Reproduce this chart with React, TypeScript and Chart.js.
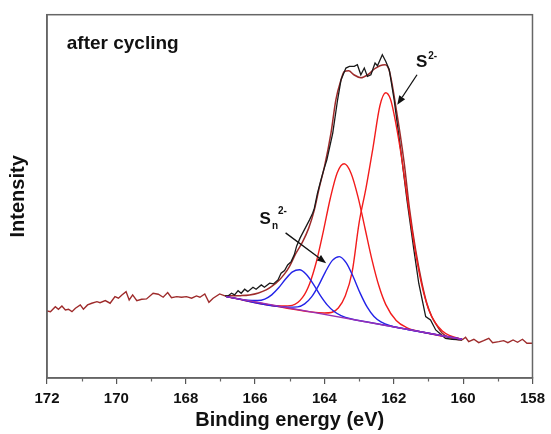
import React, { useEffect, useRef } from 'react';
import { Chart, registerables } from 'chart.js';
Chart.register(...registerables);

// ---------- data (binding energy in eV, intensity in arbitrary units) ----------
const noiseLeftE = [172.0, 171.9, 171.76, 171.67, 171.57, 171.47, 171.38, 171.28, 171.18, 171.04, 170.95, 170.83, 170.71, 170.56, 170.47, 170.32, 170.18, 170.04, 169.94, 169.84, 169.72, 169.63, 169.53, 169.41, 169.27, 169.13, 168.94, 168.79, 168.65, 168.52, 168.41, 168.26, 168.12, 167.98, 167.83, 167.69, 167.59, 167.45, 167.33, 167.21, 167.02, 166.87];
const noiseLeftI = [67, 66.3, 71.3, 68.7, 72, 68, 68.7, 66.3, 69.7, 73, 68.7, 73, 74.7, 76.3, 75.3, 77.3, 74.7, 81.3, 79.7, 83, 86.3, 78, 83, 77.3, 78.7, 79, 84.7, 83.7, 80.7, 85.3, 80.3, 81.3, 80.7, 81.3, 79.7, 82, 80.7, 84, 75.7, 79.7, 84, 82];

const noiseRightE = [160.03, 159.93, 159.84, 159.69, 159.55, 159.41, 159.26, 159.15, 158.97, 158.83, 158.71, 158.56, 158.43, 158.29, 158.16, 158.0];
const noiseRightI = [38, 40.7, 36.3, 38.7, 35.3, 37.3, 39.7, 35.3, 36.3, 37.3, 35.3, 38, 35.7, 38.7, 34.7, 34.7];

const envelopeE = [166.87, 166.4, 166.16, 165.9, 165.68, 165.5, 165.3, 165.15, 165.01, 164.82, 164.63, 164.45, 164.29, 164.15, 164.0, 163.81, 163.67, 163.52, 163.43, 163.3, 163.15, 162.95, 162.75, 162.55, 162.4, 162.25, 162.13, 161.94, 161.7, 161.55, 161.37, 161.19, 161.05, 160.9, 160.75, 160.61, 160.4, 160.12, 160.03];
const envelopeI = [82, 82.3, 83, 85, 88, 92, 98, 104, 111.3, 124.7, 136, 150, 168, 190, 211, 245, 278, 298, 306, 307, 303, 300, 303, 309, 312, 313, 307, 271, 215, 170, 128, 95, 75, 61, 52, 45, 40.5, 38.3, 38];

const rawE = [166.87, 166.78, 166.68, 166.59, 166.49, 166.4, 166.3, 166.21, 166.06, 165.97, 165.82, 165.73, 165.58, 165.47, 165.34, 165.25, 165.15, 165.06, 164.96, 164.87, 164.8, 164.7, 164.58, 164.43, 164.34, 164.29, 164.2, 164.1, 164.02, 163.93, 163.76, 163.62, 163.52, 163.38, 163.28, 163.14, 163.05, 162.95, 162.85, 162.76, 162.66, 162.54, 162.47, 162.33, 162.23, 162.13, 161.99, 161.8, 161.62, 161.42, 161.28, 161.18, 161.08, 160.94, 160.79, 160.51, 160.32, 160.03];
const rawI = [82, 82, 84.7, 83, 87.3, 84.7, 88.7, 86.3, 90.7, 88.7, 93, 90.7, 94.7, 94, 98, 104.7, 107.3, 113, 116.3, 123, 132, 140, 148, 158, 164.7, 169.7, 184.7, 198, 208, 218, 244.7, 278, 298, 309.7, 311.3, 311.3, 313, 303, 309.7, 301.3, 303, 314.7, 312, 323, 316.3, 308, 278, 228, 178, 128, 94.7, 78, 61.3, 58, 48, 39.7, 38.7, 38];

// S2- component (main) and its partner
const s2MainE = [166.83, 164.4, 164.0, 163.8, 163.6, 163.4, 163.2, 163.0, 162.8, 162.6, 162.4, 162.23, 162.1, 162.0, 161.8, 161.6, 161.4, 161.2, 161.0, 160.8, 160.6, 160.4, 160.03];
const s2MainI = [81.3, 66.1, 65, 65.5, 70, 82, 106, 155, 190, 230, 272, 285, 279, 265, 226, 177, 131, 94, 69, 55, 47, 42.6, 38.7];

const s2SecondE = [166.83, 165.23, 164.93, 164.63, 164.43, 164.23, 164.03, 163.83, 163.63, 163.43, 163.23, 163.03, 162.83, 162.63, 162.43, 162.23, 161.93, 161.63, 161.2, 160.03];
const s2SecondI = [81.3, 71.9, 72.6, 80.5, 94.0, 116.4, 146.8, 179.6, 205.1, 214, 204.4, 180.8, 149.6, 118.3, 92.1, 73.3, 57.4, 50.4, 46.0, 38.7];

// Sn2- components
const snRightE = [166.83, 165.07, 164.77, 164.57, 164.37, 164.17, 163.97, 163.77, 163.57, 163.37, 163.17, 162.97, 162.77, 162.57, 162.37, 162.07, 161.6, 160.03];
const snRightI = [81.3, 70.8, 71.1, 74.0, 81.0, 92.3, 106.1, 117.5, 121.3, 115.0, 101.1, 84.8, 71.0, 61.5, 56.1, 52.0, 48.5, 38.7];

const snLeftE = [166.83, 166.22, 165.92, 165.72, 165.52, 165.32, 165.12, 164.92, 164.72, 164.52, 164.32, 164.12, 163.92, 163.72, 163.52, 163.22, 162.8, 160.03];
const snLeftI = [81.3, 77.8, 77.4, 78.9, 83.1, 90.1, 98.9, 106.0, 108.1, 103.5, 93.9, 82.6, 73.1, 66.4, 62.4, 59.0, 56.2, 38.7];

const backgroundE = [166.83, 160.03];
const backgroundI = [81.3, 38.7];

const xMin = 158;
const xMax = 172;
const xStep = 2;
const minorTicks = [171, 169, 167, 165, 163, 161, 159];
const yMin = 0;
const yMax = 363;

const FONT = "'Liberation Sans', Arial, Helvetica, sans-serif";

const annotationCfg = {
  title: { text: 'after cycling', x: 171.43, y: 329 },
  s2: { x: 161.36, y: 311, arrowFrom: [161.33, 303], arrowTo: [161.9, 273] },
  sn: { x: 165.87, y: 154, arrowFrom: [165.12, 145], arrowTo: [163.95, 114.7] },
};

function pts(E: number[], I: number[]) {
  return E.map((e, i) => ({ x: e, y: I[i] }));
}

function drawArrow(ctx: CanvasRenderingContext2D, x1: number, y1: number, x2: number, y2: number) {
  const ang = Math.atan2(y2 - y1, x2 - x1);
  const hl = 9;
  const hw = 3.5;
  const bx = x2 - hl * Math.cos(ang);
  const by = y2 - hl * Math.sin(ang);
  ctx.beginPath();
  ctx.moveTo(x1, y1);
  ctx.lineTo(bx, by);
  ctx.strokeStyle = '#111';
  ctx.lineWidth = 1.3;
  ctx.stroke();
  ctx.beginPath();
  ctx.moveTo(x2, y2);
  ctx.lineTo(bx + hw * Math.sin(ang), by - hw * Math.cos(ang));
  ctx.lineTo(bx - hw * Math.sin(ang), by + hw * Math.cos(ang));
  ctx.closePath();
  ctx.fillStyle = '#111';
  ctx.fill();
}

const decorPlugin = {
  id: 'decor',
  afterDraw(chart: any) {
    const { ctx, chartArea, scales } = chart;
    const xs = scales.x;
    const ys = scales.y;
    ctx.save();
    // frame
    ctx.strokeStyle = '#666';
    ctx.lineWidth = 1.5;
    ctx.strokeRect(chartArea.left, chartArea.top, chartArea.right - chartArea.left, chartArea.bottom - chartArea.top);
    // minor ticks
    ctx.beginPath();
    minorTicks.forEach((v) => {
      const px = Math.round(xs.getPixelForValue(v)) + 0.5;
      ctx.moveTo(px, chartArea.bottom);
      ctx.lineTo(px, chartArea.bottom + 3.5);
    });
    ctx.lineWidth = 1.2;
    ctx.stroke();

    // texts
    ctx.fillStyle = '#111';
    ctx.textBaseline = 'alphabetic';
    ctx.textAlign = 'left';
    const t = annotationCfg.title;
    ctx.font = `bold 19px ${FONT}`;
    ctx.fillText(t.text, xs.getPixelForValue(t.x), ys.getPixelForValue(t.y));

    // S2-
    const s2 = annotationCfg.s2;
    let sx = xs.getPixelForValue(s2.x);
    let sy = ys.getPixelForValue(s2.y);
    ctx.font = `bold 17px ${FONT}`;
    ctx.fillText('S', sx, sy);
    let w = ctx.measureText('S').width;
    ctx.font = `bold 10px ${FONT}`;
    ctx.fillText('2-', sx + w + 1, sy - 8);

    // Sn2-
    const sn = annotationCfg.sn;
    sx = xs.getPixelForValue(sn.x);
    sy = ys.getPixelForValue(sn.y);
    ctx.font = `bold 17px ${FONT}`;
    ctx.fillText('S', sx, sy);
    w = ctx.measureText('S').width;
    ctx.font = `bold 10px ${FONT}`;
    ctx.fillText('n', sx + w + 1, sy + 5);
    ctx.fillText('2-', sx + w + 7, sy - 10);

    drawArrow(ctx, xs.getPixelForValue(s2.arrowFrom[0]), ys.getPixelForValue(s2.arrowFrom[1]), xs.getPixelForValue(s2.arrowTo[0]), ys.getPixelForValue(s2.arrowTo[1]));
    drawArrow(ctx, xs.getPixelForValue(sn.arrowFrom[0]), ys.getPixelForValue(sn.arrowFrom[1]), xs.getPixelForValue(sn.arrowTo[0]), ys.getPixelForValue(sn.arrowTo[1]));
    ctx.restore();
  },
};

export default function App() {
  const ref = useRef<HTMLCanvasElement | null>(null);
  useEffect(() => {
    if (!ref.current) return;
    const line = (data: any, color: string, width: number, smooth: boolean) => ({
      data,
      borderColor: color,
      backgroundColor: color,
      borderWidth: width,
      pointRadius: 0,
      fill: false,
      tension: 0,
      cubicInterpolationMode: smooth ? 'monotone' : 'default',
    });
    const chart = new Chart(ref.current, {
      type: 'line',
      data: {
        datasets: [
          line(pts(backgroundE, backgroundI), '#9a2fb4', 1.4, false),
          line(pts(snLeftE, snLeftI), '#2323e8', 1.4, true),
          line(pts(snRightE, snRightI), '#2323e8', 1.4, true),
          line(pts(s2SecondE, s2SecondI), '#f21c1c', 1.4, true),
          line(pts(s2MainE, s2MainI), '#f21c1c', 1.4, true),
          line(pts(rawE, rawI), '#1a1a1a', 1.3, false),
          line(pts(envelopeE, envelopeI), '#9e2b2b', 1.5, true),
          line(pts(noiseLeftE, noiseLeftI), '#9e2b2b', 1.4, false),
          line(pts(noiseRightE, noiseRightI), '#9e2b2b', 1.4, false),
        ] as any,
      },
      options: {
        animation: false,
        responsive: false,
        devicePixelRatio: 1,
        layout: { padding: { top: 14.7, right: 16.5, left: 0, bottom: 0 } },
        plugins: { legend: { display: false }, tooltip: { enabled: false } },
        scales: {
          x: {
            type: 'linear',
            min: xMin,
            max: xMax,
            reverse: true,
            afterFit: (s: any) => { s.height = 56; },
            ticks: {
              stepSize: xStep,
              padding: 6,
              color: '#111',
              font: { family: FONT, size: 15, weight: 'bold' },
              maxRotation: 0,
            },
            grid: { display: true, drawOnChartArea: false, drawTicks: true, tickLength: 6, color: '#555', lineWidth: 1.2 },
            border: { display: true, color: '#666', width: 1.5 },
            title: {
              display: true,
              text: 'Binding energy (eV)',
              color: '#111',
              font: { family: FONT, size: 20, weight: 'bold' },
              padding: { top: 0, bottom: 2 },
            },
          },
          y: {
            type: 'linear',
            min: yMin,
            max: yMax,
            afterFit: (s: any) => { s.width = 47; },
            ticks: { display: false },
            grid: { display: false },
            border: { display: true, color: '#666', width: 1.5 },
            title: {
              display: true,
              text: 'Intensity',
              color: '#111',
              font: { family: FONT, size: 20, weight: 'bold' },
              padding: { top: 6, bottom: 0 },
            },
          },
        },
      } as any,
      plugins: [decorPlugin],
    });
    return () => chart.destroy();
  }, []);
  return (
    <div style={{ position: 'fixed', left: 0, top: 0, width: 551, height: 434, background: '#fff' }}>
      <canvas ref={ref} width={551} height={434} />
    </div>
  );
}
